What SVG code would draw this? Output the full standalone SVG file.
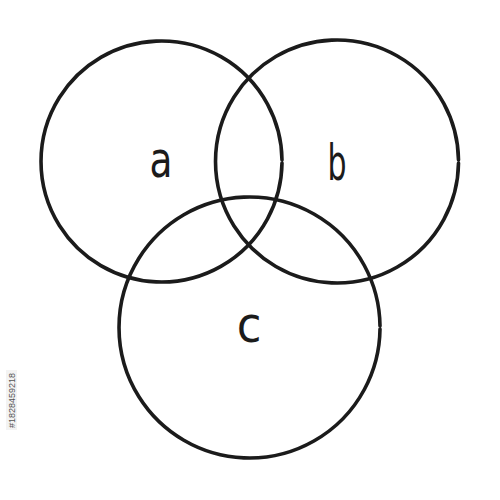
<svg xmlns="http://www.w3.org/2000/svg" width="500" height="500" viewBox="0 0 500 500">
  <style>
    .ring { fill: none; stroke: #1b1b1b; stroke-width: 3.6; stroke-linecap: round; }
    .lbl { font-family: "DejaVu Sans", "Liberation Sans", sans-serif; fill: #1b1b1b; font-size: 50px; text-anchor: middle; }
    .id { font-family: "Liberation Sans", sans-serif; font-size: 9px; fill: #555; }
  </style>
  <rect width="500" height="500" fill="#ffffff"/>
  <g id="set-a">
    <path class="ring" d="M 282 163 A 120.5 120.5 0 1 1 282 160"/>
    <text class="lbl" transform="translate(161 177) scale(0.75 1)">a</text>
  </g>
  <g id="set-b">
    <path class="ring" d="M 458.5 163 A 121.5 121.5 0 1 1 458.5 160"/>
    <text class="lbl" transform="translate(337 180) scale(0.6 1)">b</text>
  </g>
  <g id="set-c">
    <path class="ring" d="M 380 329 A 130.5 130.5 0 1 1 380 326"/>
    <text class="lbl" transform="translate(249 342) scale(0.9 1)">c</text>
  </g>
  <g id="connectors"/>
  <g id="stock-id">
    <rect x="6" y="370" width="11" height="60" fill="#f3f3f3"/>
    <text class="id" transform="translate(15 428) rotate(-90)">#1828459218</text>
  </g>
</svg>
